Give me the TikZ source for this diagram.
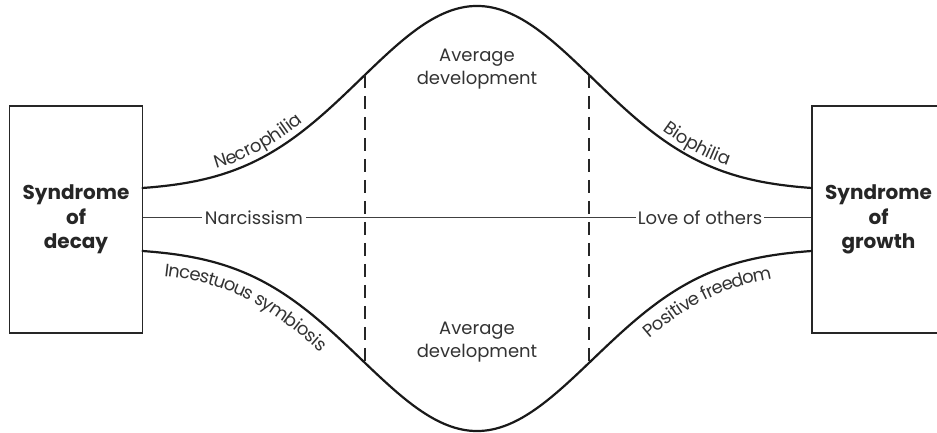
\documentclass[tikz,border=0pt]{standalone}
\usepackage{fontspec}
\setmainfont{Poppins}
\usetikzlibrary{decorations.text}
\newcommand\lblfont{\fontsize{18}{23}\selectfont}
\newcommand\boxfont{\fontsize{20}{24.5}\selectfont\bfseries}
\begin{document}
\begin{tikzpicture}[x=1pt,y=1pt,
  declare function={gg(\t)=exp(-0.5*((\t-477)/116)^2); ff(\t)=(gg(\t)-0.0155)/(1-0.0155);},
  curve/.style={line width=2.2pt, line join=round, draw=black!90},
  sbox/.style={draw=black!85, line width=1.3pt, minimum width=133pt, minimum height=227pt,
               align=center, font=\boxfont, text=black!85},
  lbl/.style={font=\lblfont, text=black!80, align=center},
  dashline/.style={line width=2pt, draw=black!85, dash pattern=on 13pt off 8pt},
  thinline/.style={line width=1pt, draw=black!75},
  ontext/.style={decorate, decoration={text along path, text align=center, raise=#1, text color=black!80}}
]
\useasboundingbox (0,0) rectangle (937,433);
\clip (0,0) rectangle (937,433);

\node[sbox] (decay) at (76,213.5) {Syndrome\\of\\decay};
\node[sbox] (growth) at (878.5,213.5) {Syndrome\\of\\growth};

% upper and lower curves
\coordinate (ul) at (decay.east |- 0,245);
\coordinate (ll) at (decay.east |- 0,182);
\draw[curve] (ul) -- plot[domain=142.5:812, samples=181, smooth] (\x,{245+182*ff(\x)});
\draw[curve] (ll) -- plot[domain=142.5:812, samples=181, smooth] (\x,{182-180*ff(\x)});

% dashed verticals
\coordinate (d1t) at (365,{245+182*ff(365)});
\coordinate (d1b) at (365,{182-180*ff(365)});
\coordinate (d2t) at (589,{245+182*ff(589)});
\coordinate (d2b) at (589,{182-180*ff(589)});
\draw[dashline] (d1t) -- (d1b);
\draw[dashline] (d2t) -- (d2b);

% middle line
\draw[thinline] (decay.east |- 0,215) -- (growth.west |- 0,215);
\node[lbl, fill=white, inner sep=3pt] (narc) at (254,215) {Narcissism};
\node[lbl, fill=white, inner sep=1.5pt] (love) at (700,215) {Love of others};

% average development
\node[lbl] (avgtop) at (477,363.5) {Average\\development};
\node[lbl] (avgbot) at (477,91) {Average\\development};

% labels along the curves
\path[ontext=7pt, decoration={text={|\lblfont|Necrophilia}}]
  plot[domain=200:322, samples=31] (\x,{245+182*ff(\x)});
\path[ontext=7pt, decoration={text={|\lblfont|Biophilia}}]
  plot[domain=643:744, samples=25] (\x,{245+182*ff(\x)});
\path[ontext=-23pt, decoration={text={|\lblfont|Incestuous symbiosis}}]
  plot[domain=145:352, samples=35] (\x,{182-180*ff(\x)});
\path[ontext=-23pt, decoration={text={|\lblfont|Positive freedom}}]
  plot[domain=616:792, samples=30] (\x,{182-180*ff(\x)});
\end{tikzpicture}
\end{document}
